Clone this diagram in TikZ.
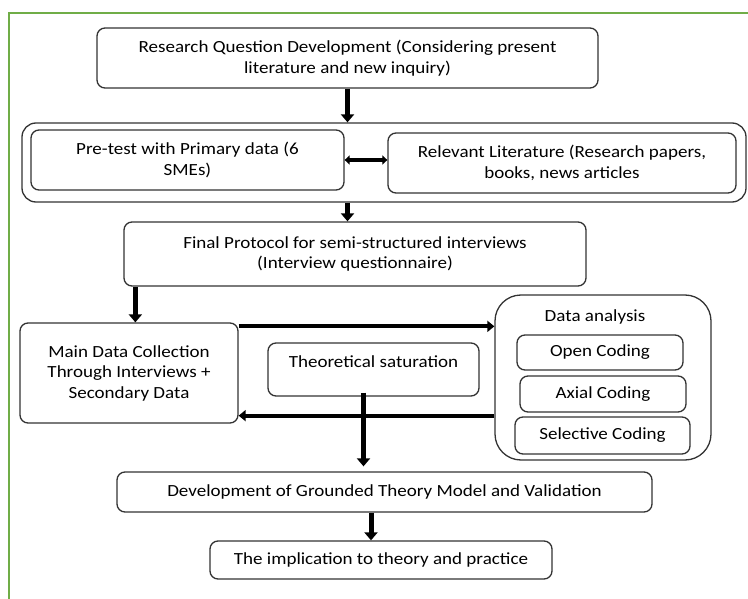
\documentclass[tikz,border=0pt]{standalone}
\usepackage{fontspec}
\setmainfont[FakeStretch=1.12]{Carlito}
\usetikzlibrary{arrows.meta, positioning, calc}
\definecolor{framegreen}{RGB}{112,173,71}

\begin{document}
\begin{tikzpicture}[x=1pt, y=-1pt,
      font=\fontsize{17}{20.5}\selectfont,
      box/.style={rectangle, draw=black!80, line width=1.3pt, rounded corners=8pt, align=center, inner sep=0pt},
      group/.style={box, rounded corners=14pt},
      panel/.style={box, rounded corners=26pt},
      flow/.style={-{Triangle[length=8pt, width=13pt]}, line width=5pt},
      link/.style={-{Triangle[length=7pt, width=11pt]}, line width=4pt},
      both/.style={{Triangle[length=5pt, width=9pt]}-{Triangle[length=5pt, width=9pt]}, line width=3.5pt}]
      \useasboundingbox (0,0) rectangle (748,599);

      % Frame
      \draw[framegreen, line width=1.5pt] (9,599) -- (9,13) -- (748,13);

      \node[box, minimum width=501pt, minimum height=60pt] (rq) at (347.5,58) {Research Question Development (Considering present\\literature and new inquiry)};
      \node[group, minimum width=724pt, minimum height=79pt] (grp) at (384,162.5) {};
      \node[box, minimum width=313pt, minimum height=60pt] (pre) at (187.5,160) {Pre-test with Primary data (6\\SMEs)};
      \node[box, minimum width=348pt, minimum height=60pt] (lit) at (562,163) {Relevant Literature (Research papers,\\books, news articles};
      \node[box, minimum width=462pt, minimum height=64pt] (fp) at (355,254) {Final Protocol for semi-structured interviews\\(Interview questionnaire)};
      \node[box, minimum width=218pt, minimum height=100pt] (main) at (129,373) {Main Data Collection\\Through Interviews +\\Secondary Data};
      \node[box, minimum width=211pt, text height=24.5pt, text depth=28.5pt] (theo) at (373.5,369.5) {Theoretical saturation};
      \node[panel, minimum width=216pt, minimum height=165pt] (da) at (603,377.5) {};
      \node (datitle) at (595,317) {Data analysis};
      \node[box, minimum width=166pt, minimum height=35pt] (open) at (600,352.5) {Open Coding};
      \node[box, minimum width=166pt, minimum height=36pt] (axial) at (603,394) {Axial Coding};
      \node[box, minimum width=175pt, minimum height=37pt] (sel) at (602.5,435.5) {Selective Coding};
      \node[box, minimum width=535pt, minimum height=40pt] (dev) at (384.5,492) {Development of Grounded Theory Model and Validation};
      \node[box, minimum width=342pt, minimum height=38pt] (imp) at (381,560) {The implication to theory and practice};

      % Arrows
      \draw[flow] (rq.south) -- (rq.south |- grp.north);
      \draw[both] (pre.east) -- (pre.east -| lit.west);
      \draw[flow] (rq.south |- grp.south) -- (rq.south |- fp.north);
      \draw[flow] ([xshift=12pt]fp.south west) -- ([xshift=12pt]fp.south west |- main.north);
      \draw[link] ([yshift=-4pt]main.north east) -- ([yshift=-4pt]main.north east -| da.west);
      \draw[link] ([yshift=8pt]da.west |- main.south) -- ([yshift=8pt]main.south east);
      \coordinate (tsout) at ([xshift=-10pt, yshift=4pt]theo.south);
      \draw[flow] (tsout) -- ([yshift=5pt]tsout |- dev.north);
      \draw[flow] ([xshift=-10pt]imp.north |- dev.south) -- ([xshift=-10pt]imp.north);
    \end{tikzpicture}
\end{document}
